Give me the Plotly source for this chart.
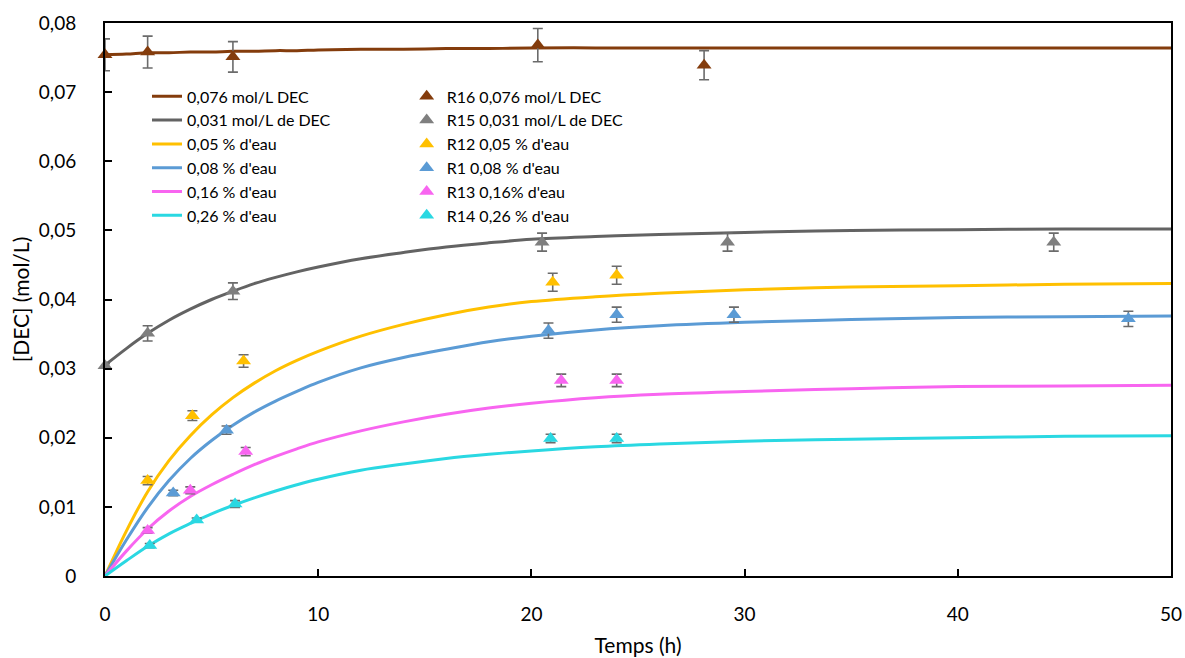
import plotly.graph_objects as go

# ---- model curves ----
t_model = [0, 1, 2, 3, 4, 5, 6, 7, 8, 9, 10, 12, 14, 16, 18, 20, 23, 26, 30, 35, 40, 45, 50]
line_brown = [0.0754, 0.0755, 0.0757, 0.0757, 0.0758, 0.0758, 0.0759, 0.0759, 0.0760, 0.0760, 0.0761, 0.0762,
              0.0762, 0.0763, 0.0763, 0.0764, 0.0764, 0.0764, 0.0764, 0.0764, 0.0764, 0.0764, 0.0764]
line_gray = [0.0305, 0.0329, 0.0351, 0.0370, 0.0386, 0.0400, 0.0412, 0.0423, 0.0432, 0.0440, 0.0447, 0.0459,
             0.0468, 0.0476, 0.0482, 0.0487, 0.0491, 0.0494, 0.0497, 0.0500, 0.0501, 0.0502, 0.0502]
line_yellow = [0.0, 0.0065, 0.0122, 0.0167, 0.0203, 0.0233, 0.0258, 0.0279, 0.0297, 0.0312, 0.0325, 0.0347,
               0.0364, 0.0378, 0.0389, 0.0397, 0.0404, 0.0409, 0.0414, 0.0418, 0.0420, 0.0422, 0.0423]
line_blue = [0.0, 0.0052, 0.0099, 0.0138, 0.0170, 0.0196, 0.0218, 0.0237, 0.0253, 0.0267, 0.0280, 0.0301,
             0.0316, 0.0328, 0.0339, 0.0347, 0.0356, 0.0362, 0.0367, 0.0371, 0.0374, 0.0375, 0.0376]
line_pink = [0.0, 0.0036, 0.0068, 0.0094, 0.0115, 0.0132, 0.0147, 0.0161, 0.0173, 0.0184, 0.0194, 0.0210,
             0.0223, 0.0234, 0.0243, 0.0250, 0.0258, 0.0263, 0.0267, 0.0271, 0.0274, 0.0275, 0.0276]
line_cyan = [0.0, 0.0022, 0.0043, 0.0061, 0.0076, 0.0090, 0.0102, 0.0113, 0.0123, 0.0132, 0.0140, 0.0153,
             0.0162, 0.0170, 0.0176, 0.0181, 0.0187, 0.0191, 0.0195, 0.0198, 0.0200, 0.0202, 0.0203]

# ---- experimental points ----
r16_t = [0, 2, 6, 20.3, 28.1]
r16_y = [0.0754, 0.0758, 0.0751, 0.0768, 0.0739]
r16_e = [0.0023, 0.0023, 0.0022, 0.0024, 0.0021]

r15_t = [0, 2, 6, 20.5, 29.2, 44.5]
r15_y = [0.0304, 0.0351, 0.0412, 0.0483, 0.0483, 0.0483]
r15_e = [0.0003, 0.0011, 0.0012, 0.0013, 0.0013, 0.0013]

r12_t = [2, 4.1, 6.5, 21.0, 24]
r12_y = [0.0138, 0.0232, 0.0311, 0.0425, 0.0435]
r12_e = [0.0006, 0.0007, 0.0009, 0.0013, 0.0013]

r1_t = [3.2, 5.7, 20.8, 24, 29.5, 48]
r1_y = [0.0120, 0.0211, 0.0355, 0.0378, 0.0378, 0.0372]
r1_e = [0.0004, 0.0006, 0.0011, 0.0011, 0.0011, 0.0011]

r13_t = [2, 4, 6.6, 21.4, 24]
r13_y = [0.0066, 0.0124, 0.0180, 0.0283, 0.0283]
r13_e = [0.0004, 0.0005, 0.0006, 0.0009, 0.0009]

r14_t = [2.1, 4.3, 6.1, 20.9, 24]
r14_y = [0.0044, 0.0081, 0.0104, 0.0199, 0.0199]
r14_e = [0.0003, 0.0003, 0.0005, 0.0006, 0.0006]

line_names = ["0,076 mol/L DEC", "0,031 mol/L de DEC", "0,05 % d'eau", "0,08 % d'eau",
              "0,16 % d'eau", "0,26 % d'eau"]
point_names = ["R16 0,076 mol/L DEC", "R15 0,031 mol/L de DEC", "R12 0,05 % d'eau",
               "R1 0,08 % d'eau", "R13 0,16% d'eau", "R14 0,26 % d'eau"]

line_colors = ["#843C0C", "#636363", "#FFC000", "#5B9BD5", "#F865F0", "#2AD8E2"]
marker_colors = ["#843C0C", "#7F7F7F", "#FFC000", "#5B9BD5", "#F865F0", "#2AD8E2"]
err_color = "#6B6B6B"

lines = [line_brown, line_gray, line_yellow, line_blue, line_pink, line_cyan]
points = [(r16_t, r16_y, r16_e), (r15_t, r15_y, r15_e), (r12_t, r12_y, r12_e),
          (r1_t, r1_y, r1_e), (r13_t, r13_y, r13_e), (r14_t, r14_y, r14_e)]

FONT = "Lato, Carlito, Calibri, sans-serif"

fig = go.Figure()
for name, ys, col in zip(line_names, lines, line_colors):
    fig.add_trace(go.Scatter(x=t_model, y=ys, mode="lines", name=name,
                             line=dict(color=col, width=3, shape="spline", smoothing=1.0),
                             legend="legend"))
for name, (tt, yy, ee), col in zip(point_names, points, marker_colors):
    fig.add_trace(go.Scatter(x=tt, y=yy, mode="markers", name=name, cliponaxis=False,
                             marker=dict(symbol="triangle-up", size=13, color=col),
                             error_y=dict(type="data", array=ee, visible=True,
                                          color=err_color, thickness=1.6, width=5),
                             legend="legend2"))

axis_common = dict(showline=True, linecolor="black", linewidth=2, mirror=True,
                   ticks="inside", ticklen=7, tickwidth=1.5, tickcolor="black",
                   showgrid=False, zeroline=False, automargin=False,
                   tickfont=dict(family=FONT, size=19, color="black"))

fig.update_layout(
    width=1185, height=658,
    margin=dict(l=105, r=14, t=23, b=82),
    paper_bgcolor="white", plot_bgcolor="white",
    separators=", ",
    font=dict(family=FONT, color="black"),
    xaxis=dict(range=[0, 50], dtick=10, tick0=0,
               title=dict(text="Temps (h)", font=dict(family=FONT, size=21), standoff=15),
               ticklabelstandoff=20, **axis_common),
    yaxis=dict(range=[0, 0.08], dtick=0.01, tick0=0,
               title=dict(text="[DEC] (mol/L)", font=dict(family=FONT, size=21), standoff=3),
               ticklabelstandoff=23, **axis_common),
    legend=dict(x=0.0394, y=0.898, xanchor="left", yanchor="top",
                font=dict(family=FONT, size=16, color="black"),
                bgcolor="rgba(0,0,0,0)", tracegroupgap=0),
    legend2=dict(x=0.283, y=0.898, xanchor="left", yanchor="top",
                 font=dict(family=FONT, size=16, color="black"),
                 bgcolor="rgba(0,0,0,0)", tracegroupgap=0),
)

fig.write_html("out.html", config={"displayModeBar": False},
               post_script="document.body.style.margin='0';document.body.style.padding='0';")
